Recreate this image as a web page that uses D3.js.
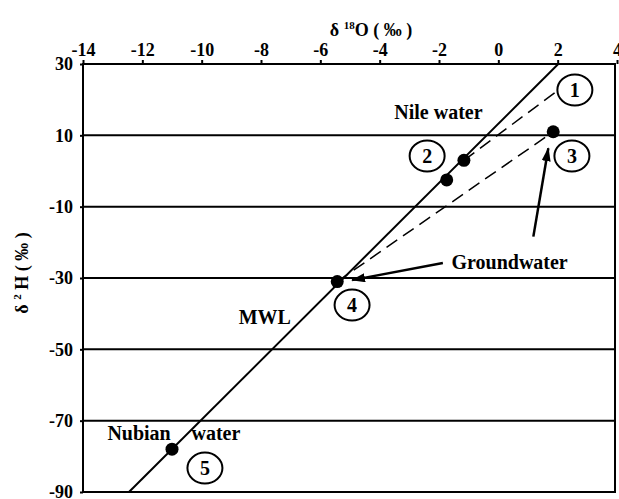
<!DOCTYPE html>
<html>
<head>
<meta charset="utf-8">
<script src="https://cdn.jsdelivr.net/npm/d3@7/dist/d3.min.js"></script>
<style>
  body { margin: 0; background: #fff; }
  text { font-family: "Liberation Serif", "Times New Roman", serif; font-weight: bold; fill: #000; }
</style>
</head>
<body>
<div id="chart"></div>
<script>
// ticks
var xTicks = [-14, -12, -10, -8, -6, -4, -2, 0, 2, 4];
var yTicks = [30, 10, -10, -30, -50, -70, -90];
var gridValues = [10, -10, -30, -50, -70];

// samples: [d18O, d2H]
var samples = [[-11, -78], [-5.43, -31], [-1.74, -2.5], [-1.16, 3], [1.85, 11]];

// meteoric water line, ends
var mwl = [[-12.45, -90], [2.02, 30]];

// dashed mixing lines
var mixLines = [
  [[-1.16, 3], [1.91, 22]],
  [[-5.43, -31], [1.85, 11]]
];

// arrows [from, to]
var arrows = [
  [[-1.87, -25.8], [-4.93, -30.6]],
  [[1.18, -18.4], [1.685, 6.4]]
];

// numbered circles
var markers = [
  { n: "1", x: 2.58, y: 22.7 },
  { n: "2", x: -2.40, y: 4.2 },
  { n: "3", x: 2.48, y: 4.2 },
  { n: "4", x: -4.93, y: -37.6 },
  { n: "5", x: -9.89, y: -83.3 }
];

var labels = [
  { t: "Nile water", x: -2.02, y: 16.5 },
  { t: "Groundwater", x: 0.38, y: -25.5 },
  { t: "MWL", x: -7.87, y: -40.9 },
  { t: "Nubian", x: -12.11, y: -73.4 },
  { t: "water", x: -9.52, y: -73.4 }
];

var width = 619, height = 499;
var plotLeft = 83, plotRight = 615, plotTop = 64, plotBottom = 492;

var svg = d3.select("#chart")
  .append("svg")
    .attr("width", width)
    .attr("height", height);

var x = d3.scaleLinear().domain([-14, 4]).range([plotLeft, 617]);
var y = d3.scaleLinear().domain([-90, 30]).range([plotBottom, plotTop]);

// plain hyphen for negatives, like the original
var fmt = function(d){ return String(d); };

svg.append("defs").append("marker")
    .attr("id", "head")
    .attr("markerUnits", "userSpaceOnUse")
    .attr("markerWidth", 14)
    .attr("markerHeight", 9)
    .attr("refX", 13)
    .attr("refY", 4.5)
    .attr("orient", "auto")
  .append("path")
    .attr("d", "M0,0 L14,4.5 L0,9 Z")
    .attr("fill", "#000");

// grid lines
svg.append("g")
  .selectAll("line")
  .data(gridValues)
  .enter()
  .append("line")
    .attr("x1", plotLeft)
    .attr("x2", plotRight)
    .attr("y1", function(d){ return y(d); })
    .attr("y2", function(d){ return y(d); })
    .attr("stroke", "#000")
    .attr("stroke-width", 2);

// frame
svg.append("rect")
    .attr("x", plotLeft)
    .attr("y", plotTop)
    .attr("width", plotRight - plotLeft)
    .attr("height", plotBottom - plotTop)
    .attr("fill", "none")
    .attr("stroke", "#000")
    .attr("stroke-width", 2);

// top axis
var xAxis = svg.append("g")
    .attr("transform", "translate(0," + plotTop + ")")
    .call(d3.axisTop(x).tickValues(xTicks).tickFormat(fmt).tickSize(4).tickPadding(4));
xAxis.select(".domain").remove();
xAxis.selectAll("line").attr("stroke-width", 2);
xAxis.selectAll("text")
    .style("font-family", "Liberation Serif")
    .style("font-weight", "bold")
    .style("font-size", "18px");

// left axis
var yAxis = svg.append("g")
    .attr("transform", "translate(" + plotLeft + ",0)")
    .call(d3.axisLeft(y).tickValues(yTicks).tickFormat(fmt).tickSize(3).tickPadding(7));
yAxis.select(".domain").remove();
yAxis.selectAll("line").attr("stroke-width", 2);
yAxis.selectAll("text")
    .style("font-family", "Liberation Serif")
    .style("font-weight", "bold")
    .style("font-size", "18px");

// axis titles
var xTitle = svg.append("text")
    .attr("x", 371)
    .attr("y", 36)
    .attr("text-anchor", "middle")
    .style("font-size", "18px");
xTitle.append("tspan").text("δ ");
xTitle.append("tspan").attr("dy", -7).style("font-size", "11px").text("18");
xTitle.append("tspan").attr("dy", 7).text("O ( ‰ )");

var yTitle = svg.append("text")
    .attr("transform", "translate(28,273) rotate(-90)")
    .attr("text-anchor", "middle")
    .style("font-size", "18px");
yTitle.append("tspan").text("δ ");
yTitle.append("tspan").attr("dy", -7).style("font-size", "11px").text("2");
yTitle.append("tspan").attr("dy", 7).text(" H ( ‰ )");

var line = d3.line()
  .x(function(d){ return x(d[0]); })
  .y(function(d){ return y(d[1]); });

// MWL
svg.append("path")
    .attr("d", line(mwl))
    .attr("fill", "none")
    .attr("stroke", "#000")
    .attr("stroke-width", 2);

// dashed lines
svg.append("g")
  .selectAll("path")
  .data(mixLines)
  .enter()
  .append("path")
    .attr("d", function(d){ return line(d); })
    .attr("fill", "none")
    .attr("stroke", "#000")
    .attr("stroke-width", 1.5)
    .attr("stroke-dasharray", "13,7");

// arrows
svg.append("g")
  .selectAll("path")
  .data(arrows)
  .enter()
  .append("path")
    .attr("d", function(d){ return line(d); })
    .attr("stroke", "#000")
    .attr("stroke-width", 2.5)
    .attr("marker-end", "url(#head)");

// samples
svg.append("g")
  .selectAll("circle")
  .data(samples)
  .enter()
  .append("circle")
    .attr("cx", function(d){ return x(d[0]); })
    .attr("cy", function(d){ return y(d[1]); })
    .attr("r", 6.5)
    .attr("fill", "#000");

// numbered circles
var m = svg.append("g")
  .selectAll("g")
  .data(markers)
  .enter()
  .append("g")
    .attr("transform", function(d){ return "translate(" + x(d.x) + "," + y(d.y) + ")"; });
m.append("ellipse")
    .attr("rx", 17.5)
    .attr("ry", 15.5)
    .attr("fill", "none")
    .attr("stroke", "#000")
    .attr("stroke-width", 2);
m.append("text")
    .attr("text-anchor", "middle")
    .attr("dy", "0.35em")
    .style("font-size", "20px")
    .text(function(d){ return d.n; });

// text labels
svg.append("g")
  .selectAll("text")
  .data(labels)
  .enter()
  .append("text")
    .attr("x", function(d){ return x(d.x); })
    .attr("y", function(d){ return y(d.y); })
    .attr("dy", "0.35em")
    .attr("text-anchor", "middle")
    .style("font-size", "20px")
    .text(function(d){ return d.t; });
</script>
</body>
</html>
